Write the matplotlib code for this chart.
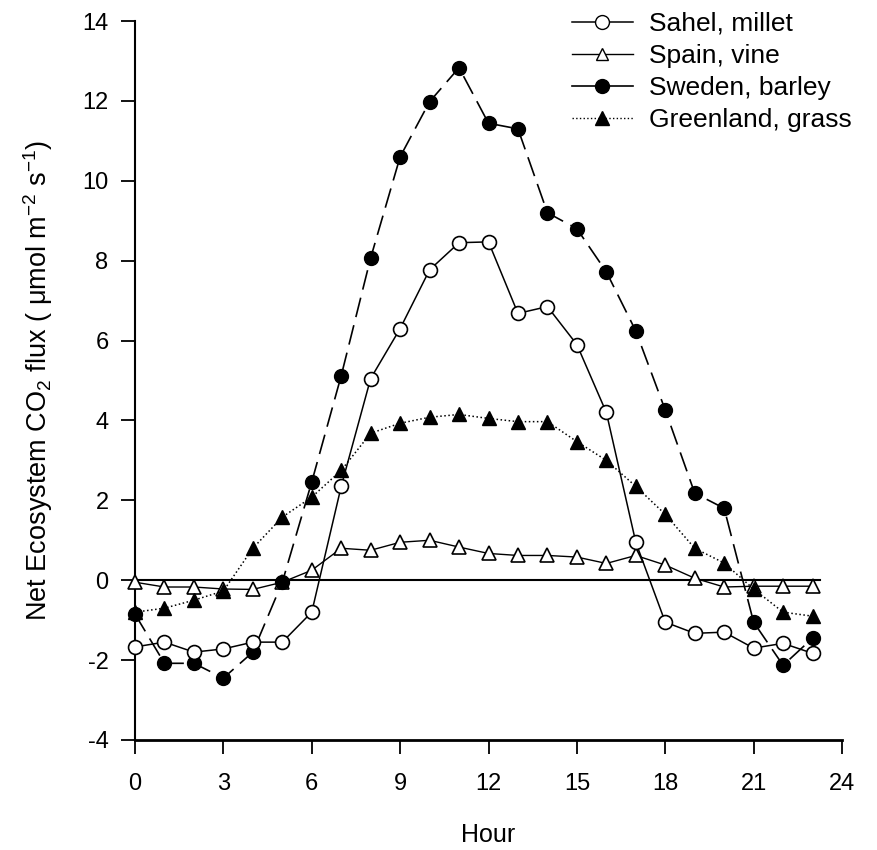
import matplotlib
matplotlib.use("Agg")
import matplotlib.pyplot as plt
from matplotlib.lines import Line2D

plt.rcParams['font.family'] = ['Liberation Sans', 'DejaVu Sans']
plt.rcParams['mathtext.fontset'] = 'custom'
plt.rcParams['mathtext.rm'] = 'Liberation Sans'
plt.rcParams['mathtext.it'] = 'Liberation Sans:italic'
plt.rcParams['axes.unicode_minus'] = False

hours = list(range(24))

sahel_millet = [-1.67, -1.55, -1.8, -1.72, -1.55, -1.55, -0.8, 2.35, 5.05, 6.3,
                7.77, 8.45, 8.47, 6.68, 6.85, 5.9, 4.2, 0.95, -1.05, -1.33,
                -1.3, -1.7, -1.58, -1.83]
spain_vine = [-0.05, -0.17, -0.17, -0.22, -0.23, -0.05, 0.25, 0.8, 0.75, 0.95,
              1.0, 0.83, 0.67, 0.62, 0.62, 0.58, 0.42, 0.62, 0.38, 0.05,
              -0.17, -0.15, -0.15, -0.15]
sweden_barley = [-0.85, -2.08, -2.08, -2.45, -1.8, -0.05, 2.46, 5.12, 8.07, 10.6,
                 11.98, 12.83, 11.44, 11.3, 9.2, 8.8, 7.72, 6.24, 4.26, 2.18,
                 1.8, -1.05, -2.13, -1.45]
greenland_grass = [-0.8, -0.7, -0.5, -0.27, 0.8, 1.58, 2.08, 2.75, 3.68, 3.93,
                   4.08, 4.15, 4.05, 3.97, 3.97, 3.47, 3.0, 2.35, 1.65, 0.8,
                   0.43, -0.22, -0.8, -0.9]

series_names = ["Sahel, millet", "Spain, vine", "Sweden, barley", "Greenland, grass"]

fig = plt.figure(figsize=(8.77, 8.5), dpi=100)
ax = fig.add_axes([135 / 877, 110 / 850, 707 / 877, 719 / 850])

ms = 10
ax.plot(hours, spain_vine, color='black', lw=1.0, marker='^', ms=ms,
        mfc='white', mec='black', mew=1.2, clip_on=False, zorder=3)
ax.plot(hours, greenland_grass, color='black', lw=1.1, ls=':', marker='^', ms=ms,
        mfc='black', mec='black', clip_on=False, zorder=4)
ax.plot(hours, sweden_barley, color='black', lw=1.2, dashes=(12, 5), marker='o', ms=ms,
        mfc='black', mec='black', clip_on=False, zorder=5)
ax.plot(hours, sahel_millet, color='black', lw=1.1, marker='o', ms=ms,
        mfc='white', mec='black', mew=1.2, clip_on=False, zorder=6)

# zero reference line
ax.axhline(0, xmin=0, xmax=23.25 / 24, color='black', lw=1.5, zorder=2)

ax.set_xlim(0, 24)
ax.set_ylim(-4, 14)
ax.set_xticks(range(0, 25, 3))
ax.set_yticks(range(-4, 15, 2))

for side in ['top', 'right']:
    ax.spines[side].set_visible(False)
ax.spines['left'].set_linewidth(1.5)
ax.spines['bottom'].set_linewidth(2.0)

ax.tick_params(axis='y', direction='out', length=10, width=1.3, labelsize=17, pad=9)
ax.tick_params(axis='x', direction='out', length=10, width=1.3, labelsize=17, pad=14)

ax.set_xlabel("Hour", fontsize=18, labelpad=20)
ax.set_ylabel(r"Net Ecosystem CO$_\mathregular{2}$ flux ( μmol m$^\mathregular{-2}$ s$^\mathregular{-1}$)",
              fontsize=19.5, labelpad=20)

handles = [
    Line2D([], [], color='black', lw=1.1, marker='o', ms=ms, mfc='white', mec='black'),
    Line2D([], [], color='black', lw=1.0, marker='^', ms=8, mfc='white', mec='black'),
    Line2D([], [], color='black', lw=1.2, marker='o', ms=ms, mfc='black', mec='black'),
    Line2D([], [], color='black', lw=1.0, ls=':', marker='^', ms=ms, mfc='black', mec='black'),
]
fig.legend(handles, series_names, loc='upper left', bbox_to_anchor=(572 / 877, 838 / 850),
           frameon=False, fontsize=19, handlelength=2.3, handletextpad=0.6,
           labelspacing=0.3, borderpad=0, borderaxespad=0)

fig.savefig("out.png", dpi=100)
